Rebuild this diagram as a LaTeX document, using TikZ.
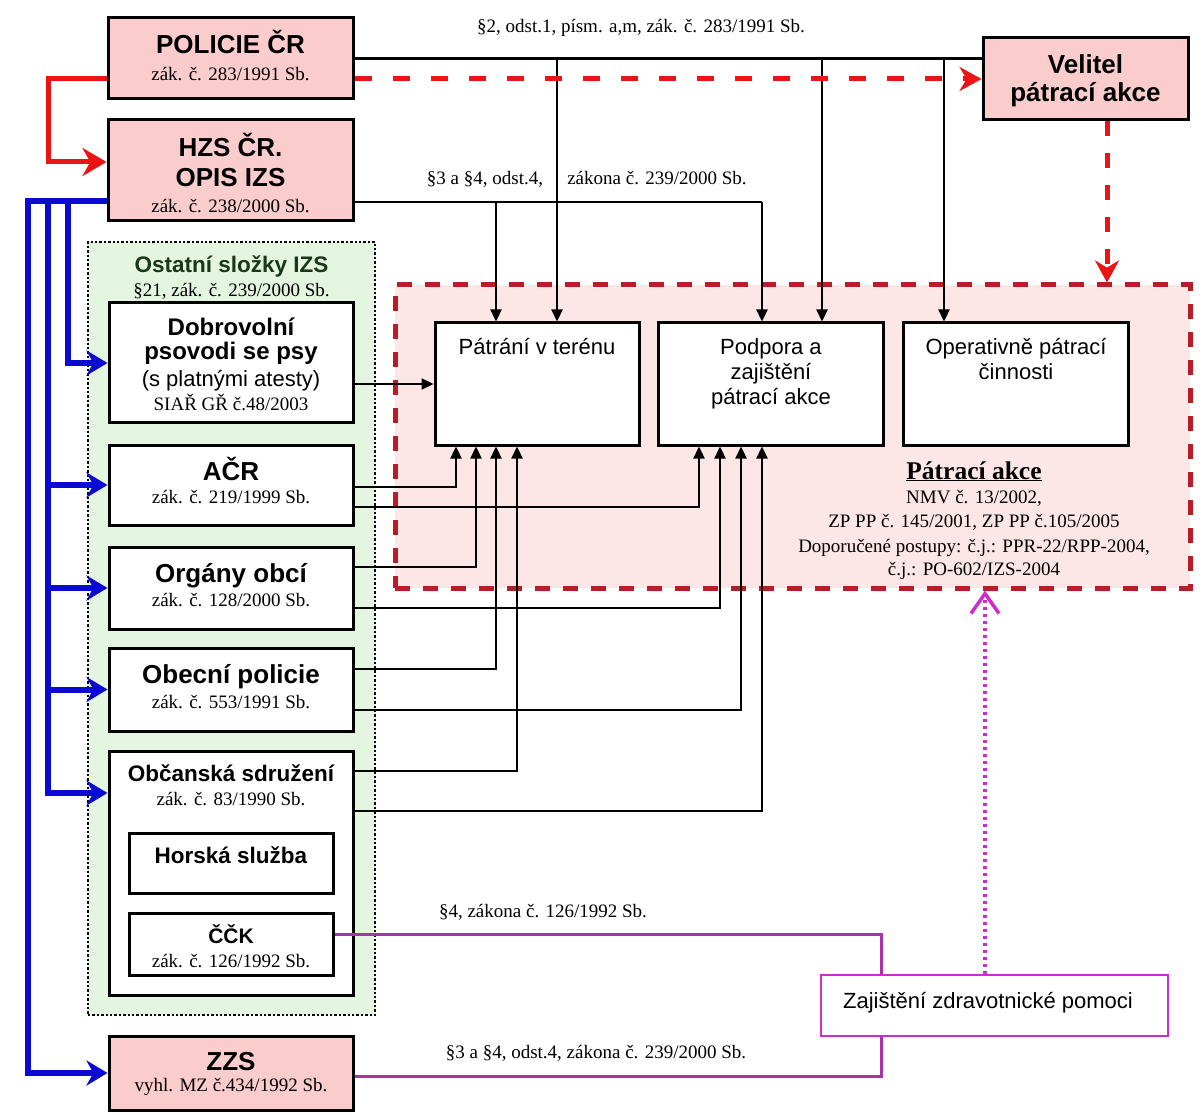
\documentclass[tikz,border=0pt]{standalone}
\usepackage{fontspec}
\setmainfont{Liberation Serif}
\newfontfamily\arialf{Liberation Sans}
\usetikzlibrary{arrows.meta}
\definecolor{pinkfill}{RGB}{250,204,204}
\definecolor{pakfill}{RGB}{253,230,230}
\definecolor{greenfill}{RGB}{228,246,224}
\definecolor{pakred}{RGB}{185,30,40}
\definecolor{brightred}{RGB}{235,20,20}
\definecolor{izsblue}{RGB}{10,10,210}
\definecolor{magbox}{RGB}{205,45,200}
\definecolor{magline}{RGB}{170,50,165}
\definecolor{darkgreen}{RGB}{25,55,25}
\newcommand\TitF{\fontsize{26}{30}\selectfont\arialf\bfseries}
\newcommand\DobF{\fontsize{24}{28}\selectfont\arialf\bfseries}
\newcommand\MidF{\fontsize{22.5}{27}\selectfont\arialf\bfseries}
\newcommand\CckF{\fontsize{21}{25}\selectfont\arialf\bfseries}
\newcommand\RegF{\fontsize{22}{26}\selectfont\arialf}
\newcommand\SubF{\fontsize{19}{22}\selectfont\rmfamily}
\newcommand\PakF{\fontsize{25.5}{30}\selectfont\rmfamily\bfseries}
\begin{document}
\begin{tikzpicture}[x=1pt,y=-1pt,
  box/.style={draw=black,line width=3pt,inner sep=0pt},
  pinkbox/.style={box,fill=pinkfill},
  whitebox/.style={box,fill=white},
  lbl/.style={anchor=base,inner sep=0pt},
  conn/.style={draw=black,line width=2.3pt,line join=miter,-{Triangle[length=12pt,width=11pt]}},
  plainline/.style={draw=black,line width=2.3pt},
  bluearr/.style={draw=izsblue,line width=6pt,line join=miter,-{Stealth[length=21pt,width=25pt]}},
  redarr/.style={draw=brightred,line width=5pt,line join=miter,-{Stealth[length=24pt,width=28pt]}},
  reddash/.style={draw=brightred,line width=5pt,dash pattern=on 17pt off 21pt,-{Stealth[length=22pt,width=24pt]}},
  magln/.style={draw=magline,line width=3pt,line join=miter},
  magdot/.style={draw=magbox,line width=3.5pt,dash pattern=on 3pt off 4pt,-{Straight Barb[length=20pt,width=28pt]}}
]
\useasboundingbox (0,0) rectangle (1203,1115);
\fill[white] (0,0) rectangle (1203,1115);

% containers
\node[draw=pakred,fill=pakfill,line width=5pt,dash pattern=on 15pt off 13pt,minimum width=795,minimum height=303,inner sep=0pt] (pak) at (792.5,436.5) {};
\node[draw=black,fill=greenfill,line width=2.6pt,dash pattern=on 2.4pt off 2pt,minimum width=287,minimum height=773,inner sep=0pt] (ost) at (231.5,628.5) {};

% boxes
\node[pinkbox,minimum width=245,minimum height=81] (pol) at (230.5,58.5) {};
\node[pinkbox,minimum width=245,minimum height=101] (hzs) at (230.5,170.5) {};
\node[pinkbox,minimum width=205,minimum height=82] (vel) at (1085.5,79) {};
\node[whitebox,minimum width=244,minimum height=120] (dob) at (231,363) {};
\node[whitebox,minimum width=244,minimum height=80] (acr) at (231,485) {};
\node[whitebox,minimum width=244,minimum height=82] (org) at (231,588) {};
\node[whitebox,minimum width=244,minimum height=83] (obp) at (231,689.5) {};
\node[whitebox,minimum width=244,minimum height=244] (obs) at (231,873) {};
\node[whitebox,minimum width=204,minimum height=60] (hor) at (231,863) {};
\node[whitebox,minimum width=204,minimum height=62] (cck) at (231,944) {};
\node[pinkbox,minimum width=244,minimum height=74] (zzs) at (231,1073) {};
\node[whitebox,minimum width=204,minimum height=122] (pat) at (537,384) {};
\node[whitebox,minimum width=225,minimum height=122] (pod) at (770.5,384) {};
\node[whitebox,minimum width=225,minimum height=122] (ope) at (1015.5,384) {};
\node[draw=magbox,line width=2.8pt,fill=white,inner sep=0pt,minimum width=347,minimum height=61] (zaj) at (994.5,1005.5) {};

% helper coordinates
\coordinate (j1) at (557,58.5);
\coordinate (j2) at (822,58.5);
\coordinate (j3) at (944,58.5);
\coordinate (h1) at (496,202);
\coordinate (h2) at (762,202);
\coordinate (rc) at (48,162);
\coordinate (b1) at (28,201);
\coordinate (b2) at (48,201);
\coordinate (b3) at (68,201);
\coordinate (pa1) at (pat.south -| 456,0);
\coordinate (pa2) at (pat.south -| 476,0);
\coordinate (pa3) at (pat.south -| 496,0);
\coordinate (pa4) at (pat.south -| 517,0);
\coordinate (pb1) at (pod.south -| 699,0);
\coordinate (pb2) at (pod.south -| 720,0);
\coordinate (pb3) at (pod.south -| 741,0);
\coordinate (pb4) at (pod.south -| 762,0);

% POLICIE connectors
\draw[plainline] (pol.east) -- (pol.east -| vel.west);
\draw[conn] (j1) -- (j1 |- pat.north);
\draw[conn] (j2) -- (j2 |- pod.north);
\draw[conn] (j3) -- (j3 |- ope.north);
\draw[reddash] (pol.east |- vel.west) -- (vel.west);
\draw[redarr] (pol.west |- vel.west) -| (rc) -- (hzs.west |- rc);
\draw[reddash,dash pattern=on 15pt off 17pt] (vel.south -| 1107,0) -- (pak.north -| 1107,0);

% HZS connectors
\draw[plainline] (hzs.east |- h1) -- (h2);
\draw[conn] (h1) -- (h1 |- pat.north);
\draw[conn] (h2) -- (h2 |- pod.north);

% blue
\draw[bluearr] (hzs.west |- b1) -| (zzs.west -| b1) -- (zzs.west);
\draw[bluearr] (b3) |- (dob.west);
\draw[bluearr] (b2) |- (acr.west);
\draw[bluearr] (b2) |- (org.west);
\draw[bluearr] (b2) |- (obp.west);
\draw[bluearr] (b2) |- (obs.west |- 0,793);

% black connectors from IZS parts
\draw[conn] (dob.east |- 0,384) -- (pat.west |- 0,384);
\draw[conn] (acr.east |- 0,487) -| (pa1);
\draw[conn] (acr.east |- 0,507) -| (pb1);
\draw[conn] (org.east |- 0,567) -| (pa2);
\draw[conn] (org.east |- 0,608) -| (pb2);
\draw[conn] (obp.east |- 0,669) -| (pa3);
\draw[conn] (obp.east |- 0,710) -| (pb3);
\draw[conn] (obs.east |- 0,771) -| (pa4);
\draw[conn] (obs.east |- 0,811) -| (pb4);

% magenta
\draw[magln] (cck.east |- 0,934) -| (zaj.north -| 881,0);
\draw[magln] (zzs.east |- 0,1076) -| (zaj.south -| 881,0);
\draw[magdot] (zaj.north -| 985,0) -- (pak.south -| 985,0);

% texts
\node[lbl] (tpol1) at (230.5,54) {\TitF POLICIE ČR};
\node[lbl] (tpol2) at (230.5,81) {\SubF zák. č. 283/1991 Sb.};
\node[lbl] (thzs1) at (230.5,157) {\TitF HZS ČR.};
\node[lbl] (thzs2) at (230.5,187) {\TitF OPIS IZS};
\node[lbl] (thzs3) at (230.5,213) {\SubF zák. č. 238/2000 Sb.};
\node[lbl] (tvel1) at (1085.5,74) {\TitF Velitel};
\node[lbl] (tvel2) at (1085.5,102) {\TitF pátrací akce};
\node[lbl] (ttop) at (641,33) {\SubF §2, odst.1, písm. a,m, zák. č. 283/1991 Sb.};
\node[lbl] (thza) at (485,185) {\SubF §3 a §4, odst.4,};
\node[lbl] (thzb) at (657,185) {\SubF zákona č. 239/2000 Sb.};
\node[lbl] (tost1) at (231.5,273) {\MidF\color{darkgreen}Ostatní složky IZS};
\node[lbl] (tost2) at (231.5,297) {\SubF §21, zák. č. 239/2000 Sb.};
\node[lbl] (tdob1) at (231,336) {\DobF Dobrovolní};
\node[lbl] (tdob2) at (231,360) {\DobF psovodi se psy};
\node[lbl] (tdob3) at (231,387) {\RegF (s platnými atesty)};
\node[lbl] (tdob4) at (231,411) {\SubF SIAŘ GŘ č.48/2003};
\node[lbl] (tacr1) at (231,480) {\TitF AČR};
\node[lbl] (tacr2) at (231,503) {\SubF zák. č. 219/1999 Sb.};
\node[lbl] (torg1) at (231,582) {\TitF Orgány obcí};
\node[lbl] (torg2) at (231,606) {\SubF zák. č. 128/2000 Sb.};
\node[lbl] (tobp1) at (231,683) {\TitF Obecní policie};
\node[lbl] (tobp2) at (231,708) {\SubF zák. č. 553/1991 Sb.};
\node[lbl] (tobs1) at (231,781) {\MidF Občanská sdružení};
\node[lbl] (tobs2) at (231,805) {\SubF zák. č. 83/1990 Sb.};
\node[lbl] (thor) at (231,863) {\MidF Horská služba};
\node[lbl] (tcck1) at (231,943) {\CckF ČČK};
\node[lbl] (tcck2) at (231,967) {\SubF zák. č. 126/1992 Sb.};
\node[lbl] (tzzs1) at (231,1070) {\TitF ZZS};
\node[lbl] (tzzs2) at (231,1091) {\SubF vyhl. MZ č.434/1992 Sb.};
\node[lbl] (tpat) at (537,355) {\RegF Pátrání v terénu};
\node[lbl] (tpod1) at (771,355) {\RegF Podpora a};
\node[lbl] (tpod2) at (771,380) {\RegF zajištění};
\node[lbl] (tpod3) at (771,405) {\RegF pátrací akce};
\node[lbl] (tope1) at (1016,355) {\RegF Operativně pátrací};
\node[lbl] (tope2) at (1016,380) {\RegF činnosti};
\node[lbl] (tpak1) at (974,479) {\PakF\underline{Pátrací akce}};
\node[lbl] (tpak2) at (974,503) {\SubF NMV č. 13/2002,};
\node[lbl] (tpak3) at (974,527) {\SubF ZP PP č. 145/2001, ZP PP č.105/2005};
\node[lbl] (tpak4) at (974,552) {\SubF Doporučené postupy: č.j.: PPR-22/RPP-2004,};
\node[lbl] (tpak5) at (974,575) {\SubF č.j.: PO-602/IZS-2004};
\node[lbl] (tzaj) at (988,1008) {\RegF Zajištění zdravotnické pomoci};
\node[lbl] (tm1) at (543,917) {\SubF §4, zákona č. 126/1992 Sb.};
\node[lbl] (tm2) at (596,1058) {\SubF §3 a §4, odst.4, zákona č. 239/2000 Sb.};
\end{tikzpicture}
\end{document}
